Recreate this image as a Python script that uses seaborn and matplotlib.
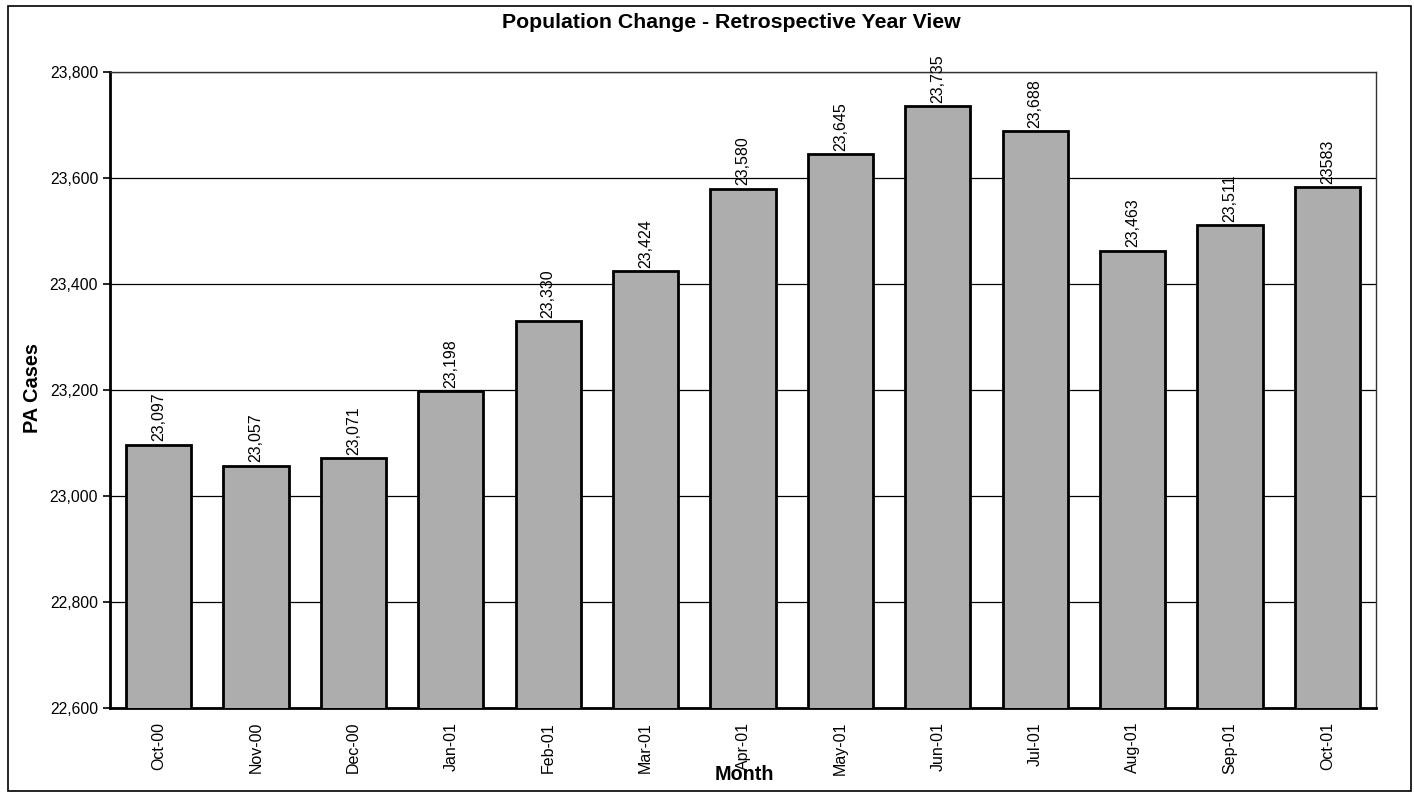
import matplotlib
matplotlib.use("Agg")
import matplotlib.pyplot as plt
import seaborn as sns
import pandas as pd
from matplotlib.patches import Rectangle
from matplotlib.ticker import FuncFormatter, FixedLocator

months = ["Oct-00", "Nov-00", "Dec-00", "Jan-01", "Feb-01", "Mar-01", "Apr-01",
          "May-01", "Jun-01", "Jul-01", "Aug-01", "Sep-01", "Oct-01"]
cases = [23097, 23057, 23071, 23198, 23330, 23424, 23580,
         23645, 23735, 23688, 23463, 23511, 23583]
value_labels = ["23,097", "23,057", "23,071", "23,198", "23,330", "23,424", "23,580",
                "23,645", "23,735", "23,688", "23,463", "23,511", "23583"]
y_ticks = [22600, 22800, 23000, 23200, 23400, 23600, 23800]

sns.set_theme(style="white")
plt.rcParams['font.family'] = ['Liberation Sans', 'DejaVu Sans']
plt.rcParams['text.color'] = 'black'
plt.rcParams['xtick.color'] = 'black'
plt.rcParams['ytick.color'] = 'black'
plt.rcParams['axes.labelcolor'] = 'black'

fig = plt.figure(figsize=(14.14, 7.95), dpi=100)
ax = fig.add_axes([110/1414, 1 - 708/795, (1376-110)/1414, (708-72)/795])

df = pd.DataFrame({"Month": months, "Cases": cases})
sns.barplot(data=df, x="Month", y="Cases", color="#adadad", saturation=1,
            edgecolor="black", linewidth=2.0, width=0.67, ax=ax, zorder=3)

ax.set_ylim(22600, 23800)
ax.set_xlim(-0.5, len(months) - 0.5)
ax.yaxis.set_major_locator(FixedLocator(y_ticks))
ax.yaxis.set_major_formatter(FuncFormatter(lambda v, p: f"{int(v):,}"))
ax.grid(axis="y", color="black", linewidth=0.9, zorder=0)
ax.set_axisbelow(True)

for p, lab in zip(ax.patches, value_labels):
    ax.annotate(lab, (p.get_x() + p.get_width()/2, p.get_height()),
                xytext=(0, 2.5), textcoords="offset points",
                rotation=90, ha="center", va="bottom", fontsize=11.5,
                color="black", annotation_clip=False)

ax.tick_params(axis="x", which="major", length=0, labelsize=11.5, rotation=90, pad=10)
ax.set_xticks([i + 0.5 for i in range(-1, len(months))], minor=True)
ax.tick_params(axis="x", which="minor", length=5, width=1.2, color="black", direction="out")
ax.tick_params(axis="y", which="major", length=5, width=1.2, color="black",
               direction="out", labelsize=11.3, left=True)

for s in ["left", "bottom"]:
    ax.spines[s].set_color("black")
    ax.spines[s].set_linewidth(2.0)
for s in ["top", "right"]:
    ax.spines[s].set_color("#333333")
    ax.spines[s].set_linewidth(1.0)

ax.set_xlabel("")
ax.set_ylabel("")
fig.text(731/1414, 1 - 22/795, "Population Change - Retrospective Year View",
         ha="center", va="center", fontsize=15.3, fontweight="bold")
fig.text(32/1414, 1 - 388/795, "PA Cases", ha="center", va="center",
         rotation=90, fontsize=14.4, fontweight="bold")
fig.text(744/1414, 1 - 775/795, "Month", ha="center", va="center",
         fontsize=14.2, fontweight="bold")

fig.patches.append(Rectangle((8/1414, 4/795), (1411-8)/1414, (789-4)/795,
                             transform=fig.transFigure, fill=False,
                             edgecolor="black", linewidth=1.2))

fig.savefig("out.png", dpi=100)
